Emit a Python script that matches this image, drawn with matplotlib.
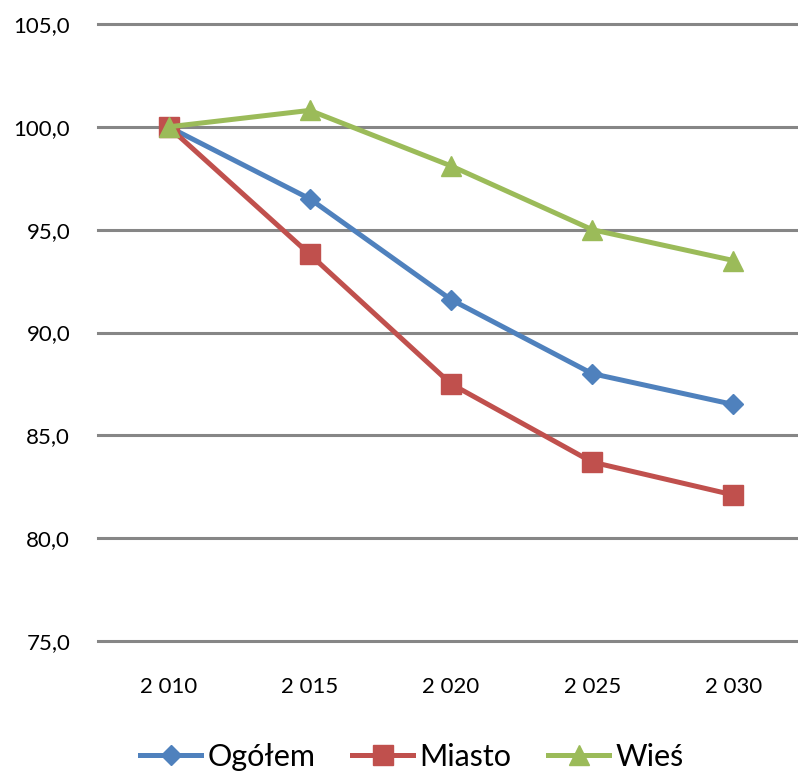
import numpy as np
import matplotlib.pyplot as plt

plt.rcParams['font.family'] = ['Lato', 'DejaVu Sans']

years = ['2 010', '2 015', '2 020', '2 025', '2 030']
ogolem = [100.0, 96.5, 91.6, 88.0, 86.5]
miasto = [100.0, 93.8, 87.5, 83.7, 82.1]
wies = [100.0, 100.8, 98.1, 95.0, 93.5]

fig = plt.figure(figsize=(7.98, 7.76), dpi=100)
ax = fig.add_axes([98/798, 1 - 641/776, 706/798, 617/776])

x = np.arange(len(years))
ax.plot(x, ogolem, color='#4F81BD', lw=3.6, marker='D', ms=10, label='Ogółem')
ax.plot(x, miasto, color='#C0504D', lw=3.6, marker='s', ms=14, label='Miasto')
ax.plot(x, wies, color='#9BBB59', lw=3.6, marker='^', ms=15, label='Wieś')

ax.set_xlim(-0.5, 4.5)
ax.set_ylim(75, 105)
ax.set_yticks(np.arange(75, 106, 5))
ax.set_yticklabels([f'{v:.1f}'.replace('.', ',') for v in np.arange(75, 106, 5)])
ax.set_xticks(x)
ax.set_xticklabels(years)
ax.grid(axis='y', color='#868686', lw=2.2)
for gl in ax.get_ygridlines():
    gl.set_clip_on(False)
ax.set_axisbelow(True)
for s in ax.spines.values():
    s.set_visible(False)
ax.tick_params(axis='both', length=0, labelsize=16)
ax.tick_params(axis='y', pad=20)
ax.tick_params(axis='x', pad=26)

fig.legend(loc='center', bbox_to_anchor=(412/798, 1 - 757/776), ncol=3, frameon=False,
           fontsize=22, handlelength=2.0, handletextpad=0.2, columnspacing=1.2)

fig.savefig('out.png', dpi=100)
